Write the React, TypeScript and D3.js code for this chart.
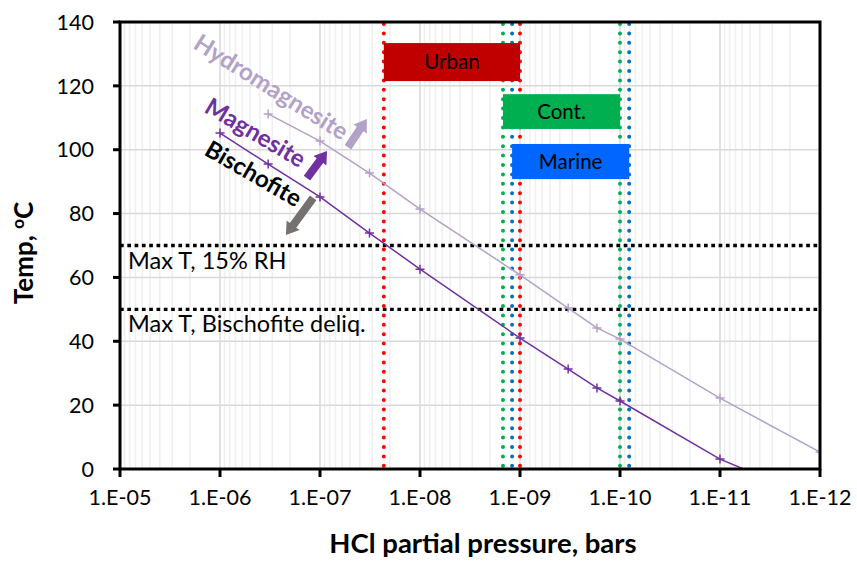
import * as d3 from 'd3';
import React, { useEffect, useRef } from 'react';

// Magnesite / hydromagnesite stability curves: HCl partial pressure (bars) vs temperature (C)
const magnesiteP = [1e-6, 3.3e-7, 1e-7, 3.2e-8, 1e-8, 1e-9, 3.3e-10, 1.7e-10, 1e-10, 1e-11, 1e-12];
const magnesiteT = [105.2, 95.5, 85.2, 73.9, 62.6, 41.0, 31.3, 25.4, 21.3, 3.1, -10];
const hydroP = [3.3e-7, 1e-7, 3.2e-8, 1e-8, 1e-9, 3.3e-10, 1.7e-10, 1e-10, 1e-11, 1e-12];
const hydroT = [111.2, 102.7, 92.7, 81.4, 60.8, 50.4, 44.2, 40.7, 22.2, 5.3];

const xTicks = [1e-5, 1e-6, 1e-7, 1e-8, 1e-9, 1e-10, 1e-11, 1e-12];
const xTickLabels = ['1.E-05', '1.E-06', '1.E-07', '1.E-08', '1.E-09', '1.E-10', '1.E-11', '1.E-12'];
const yTicks = [0, 20, 40, 60, 80, 100, 120, 140];

// horizontal reference temperatures
const refTemps = [70, 50];
const refLabels = ['Max T, 15% RH', 'Max T, Bischofite deliq.'];

// HCl ranges for atmospheres (bounds of dotted lines and boxes)
const envNames = ['Urban', 'Cont.', 'Marine'];
const envLow = [2.3e-8, 1.48e-9, 1.2e-9];
const envHigh = [1e-9, 1e-10, 8.1e-11];
const envTop = [133.4, 117.4, 101.8];
const envBottom = [121.5, 106.5, 90.8];
const envColors = ['#C00000', '#00B050', '#0066FF'];
const envLineColors = ['#FF0000', '#00B050', '#0070C0'];

const App = () => {
  const ref = useRef<SVGSVGElement>(null);

  useEffect(() => {
    const width = 857, height = 561;
    const margin = { top: 22, right: 37, bottom: 92, left: 120 };
    const font = 'Lato, "Open Sans", sans-serif';

    const svg = d3.select(ref.current);
    svg.selectAll('*').remove();

    const x = d3.scaleLog()
      .domain([1e-5, 1e-12])
      .range([margin.left, width - margin.right]);

    const y = d3.scaleLinear()
      .domain([0, 140])
      .range([height - margin.bottom, margin.top]);

    const x0 = x.range()[0], x1 = x.range()[1];
    const y0 = y.range()[0], y1 = y.range()[1];

    svg.append('defs').append('clipPath').attr('id', 'plot')
      .append('rect').attr('x', x0).attr('y', y1).attr('width', x1 - x0).attr('height', y0 - y1);

    // minor vertical grid
    const minor: number[] = [];
    for (let e = -12; e < -5; e++) for (let k = 2; k <= 9; k++) minor.push(k * Math.pow(10, e));
    svg.append('g').selectAll('line').data(minor).join('line')
      .attr('x1', d => x(d)).attr('x2', d => x(d))
      .attr('y1', y1).attr('y2', y0)
      .attr('stroke', '#EFEFEF').attr('stroke-width', 1.5);

    // major grid
    svg.append('g').selectAll('line').data(xTicks).join('line')
      .attr('x1', d => x(d)).attr('x2', d => x(d))
      .attr('y1', y1).attr('y2', y0)
      .attr('stroke', '#D9D9D9').attr('stroke-width', 1.5);
    svg.append('g').selectAll('line').data(yTicks).join('line')
      .attr('x1', x0).attr('x2', x1)
      .attr('y1', d => y(d)).attr('y2', d => y(d))
      .attr('stroke', '#D9D9D9').attr('stroke-width', 1.5);

    // dotted vertical lines for each environment
    const vlines = envNames.flatMap((n, i) => [
      { p: envLow[i], c: envLineColors[i] },
      { p: envHigh[i], c: envLineColors[i] },
    ]);
    svg.append('g').selectAll('line').data(vlines).join('line')
      .attr('x1', d => x(d.p)).attr('x2', d => x(d.p))
      .attr('y1', y1 + 2).attr('y2', y0)
      .attr('stroke', d => d.c).attr('stroke-width', 4)
      .attr('stroke-linecap', 'round').attr('stroke-dasharray', '0 9.4');

    // dotted horizontal lines
    svg.append('g').selectAll('line').data(refTemps).join('line')
      .attr('x1', x0).attr('x2', x1)
      .attr('y1', d => y(d)).attr('y2', d => y(d))
      .attr('stroke', '#000').attr('stroke-width', 3.3)
      .attr('stroke-dasharray', '3.7 3.6');

    svg.append('g').selectAll('text').data(refTemps).join('text')
      .attr('x', x0 + 8).attr('y', d => y(d) + 23)
      .attr('font-family', font).attr('font-size', 23.5)
      .attr('fill', '#000')
      .text((d, i) => refLabels[i]);

    // environment boxes
    const boxes = svg.append('g');
    envNames.forEach((n, i) => {
      boxes.append('rect')
        .attr('x', x(envLow[i])).attr('y', y(envTop[i]))
        .attr('width', x(envHigh[i]) - x(envLow[i]))
        .attr('height', y(envBottom[i]) - y(envTop[i]))
        .attr('fill', envColors[i]);
      boxes.append('text')
        .attr('x', (x(envLow[i]) + x(envHigh[i])) / 2)
        .attr('y', (y(envTop[i]) + y(envBottom[i])) / 2)
        .attr('dy', '0.36em')
        .attr('text-anchor', 'middle')
        .attr('font-family', font).attr('font-size', 20.5)
        .attr('fill', '#000')
        .text(n);
    });

    // curves
    const series = [
      { p: hydroP, t: hydroT, color: '#B3A2C7' },
      { p: magnesiteP, t: magnesiteT, color: '#7030A0' },
    ];
    const line = d3.line<[number, number]>().x(d => x(d[0])).y(d => y(d[1]));
    const curves = svg.append('g').attr('clip-path', 'url(#plot)');
    series.forEach(s => {
      const pts = s.p.map((p, i) => [p, s.t[i]] as [number, number]);
      curves.append('path')
        .attr('d', line(pts))
        .attr('fill', 'none').attr('stroke', s.color).attr('stroke-width', 1.5);
      curves.append('g').selectAll('path').data(pts).join('path')
        .attr('d', d => {
          const cx = x(d[0]), cy = y(d[1]), r = 4.5;
          return `M${cx - r},${cy}H${cx + r}M${cx},${cy - r}V${cy + r}`;
        })
        .attr('stroke', s.color).attr('stroke-width', 1.5);
    });

    // block arrows (tail -> tip, in data coordinates)
    const arrows = [
      { from: [5.25e-8, 100.8], to: [3.4e-8, 109.6], color: '#B3A2C7' },
      { from: [1.35e-7, 91.1], to: [8.5e-8, 99.6], color: '#7030A0' },
      { from: [1.17e-7, 84.9], to: [2.19e-7, 73.3], color: '#767171' },
    ];
    arrows.forEach(a => {
      const ax = x(a.from[0]), ay = y(a.from[1]);
      const bx = x(a.to[0]), by = y(a.to[1]);
      const len = Math.hypot(bx - ax, by - ay);
      const ux = (bx - ax) / len, uy = (by - ay) / len;
      const nx = -uy, ny = ux;
      const sw = 4, hw = 8, hl = 12;
      const hx = bx - ux * hl, hy = by - uy * hl;
      const pts = [
        [ax + nx * sw, ay + ny * sw],
        [hx + nx * sw, hy + ny * sw],
        [hx + nx * hw, hy + ny * hw],
        [bx, by],
        [hx - nx * hw, hy - ny * hw],
        [hx - nx * sw, hy - ny * sw],
        [ax - nx * sw, ay - ny * sw],
      ];
      svg.append('polygon')
        .attr('points', pts.map(p => p.join(',')).join(' '))
        .attr('fill', a.color);
    });

    // curve labels
    const labels = [
      { text: 'Hydromagnesite', at: [1.9e-6, 132.0], angle: 32, color: '#B3A2C7' },
      { text: 'Magnesite', at: [1.48e-6, 112.0], angle: 30.5, color: '#7030A0' },
      { text: 'Bischofite', at: [1.48e-6, 98.6], angle: 30, color: '#000000' },
    ];
    labels.forEach(l => {
      const lx = x(l.at[0]), ly = y(l.at[1]);
      svg.append('text')
        .attr('transform', `translate(${lx},${ly}) rotate(${l.angle})`)
        .attr('font-family', font).attr('font-weight', 'bold').attr('font-size', 24)
        .attr('fill', l.color)
        .text(l.text);
    });

    // frame
    svg.append('rect')
      .attr('x', x0).attr('y', y1).attr('width', x1 - x0).attr('height', y0 - y1)
      .attr('fill', 'none').attr('stroke', '#000').attr('stroke-width', 3);

    // ticks
    svg.append('g').selectAll('line').data(yTicks).join('line')
      .attr('x1', x0 - 7).attr('x2', x0)
      .attr('y1', d => y(d)).attr('y2', d => y(d))
      .attr('stroke', '#000').attr('stroke-width', 3);
    svg.append('g').selectAll('line').data(xTicks).join('line')
      .attr('x1', d => x(d)).attr('x2', d => x(d))
      .attr('y1', y0).attr('y2', y0 + 8)
      .attr('stroke', '#000').attr('stroke-width', 3);

    // tick labels
    svg.append('g').selectAll('text').data(yTicks).join('text')
      .attr('x', x0 - 26).attr('y', d => y(d)).attr('dy', '0.36em')
      .attr('text-anchor', 'end')
      .attr('font-family', font).attr('font-size', 21.5)
      .attr('fill', '#000')
      .text(d => d);
    svg.append('g').selectAll('text').data(xTicks).join('text')
      .attr('x', d => x(d)).attr('y', y0 + 36)
      .attr('text-anchor', 'middle')
      .attr('font-family', font).attr('font-size', 21.5)
      .attr('fill', '#000')
      .text((d, i) => xTickLabels[i]);

    // axis titles
    svg.append('text')
      .attr('x', 483).attr('y', 553)
      .attr('text-anchor', 'middle')
      .attr('font-family', font).attr('font-weight', 'bold').attr('font-size', 27.5)
      .attr('fill', '#000')
      .text('HCl partial pressure, bars');

    const yt = svg.append('text')
      .attr('transform', `translate(33,253) rotate(-90)`)
      .attr('text-anchor', 'middle')
      .attr('font-family', font).attr('font-weight', 'bold').attr('font-size', 26)
      .attr('fill', '#000');
    yt.append('tspan').text('Temp,  ');
    yt.append('tspan').attr('font-size', 17).attr('dy', -9).text('o');
    yt.append('tspan').attr('dy', 9).text('C');
  }, []);

  return (
    <svg ref={ref} width={857} height={561}
      style={{ position: 'absolute', left: 0, top: 0, background: '#fff' }} />
  );
};

export default App;
